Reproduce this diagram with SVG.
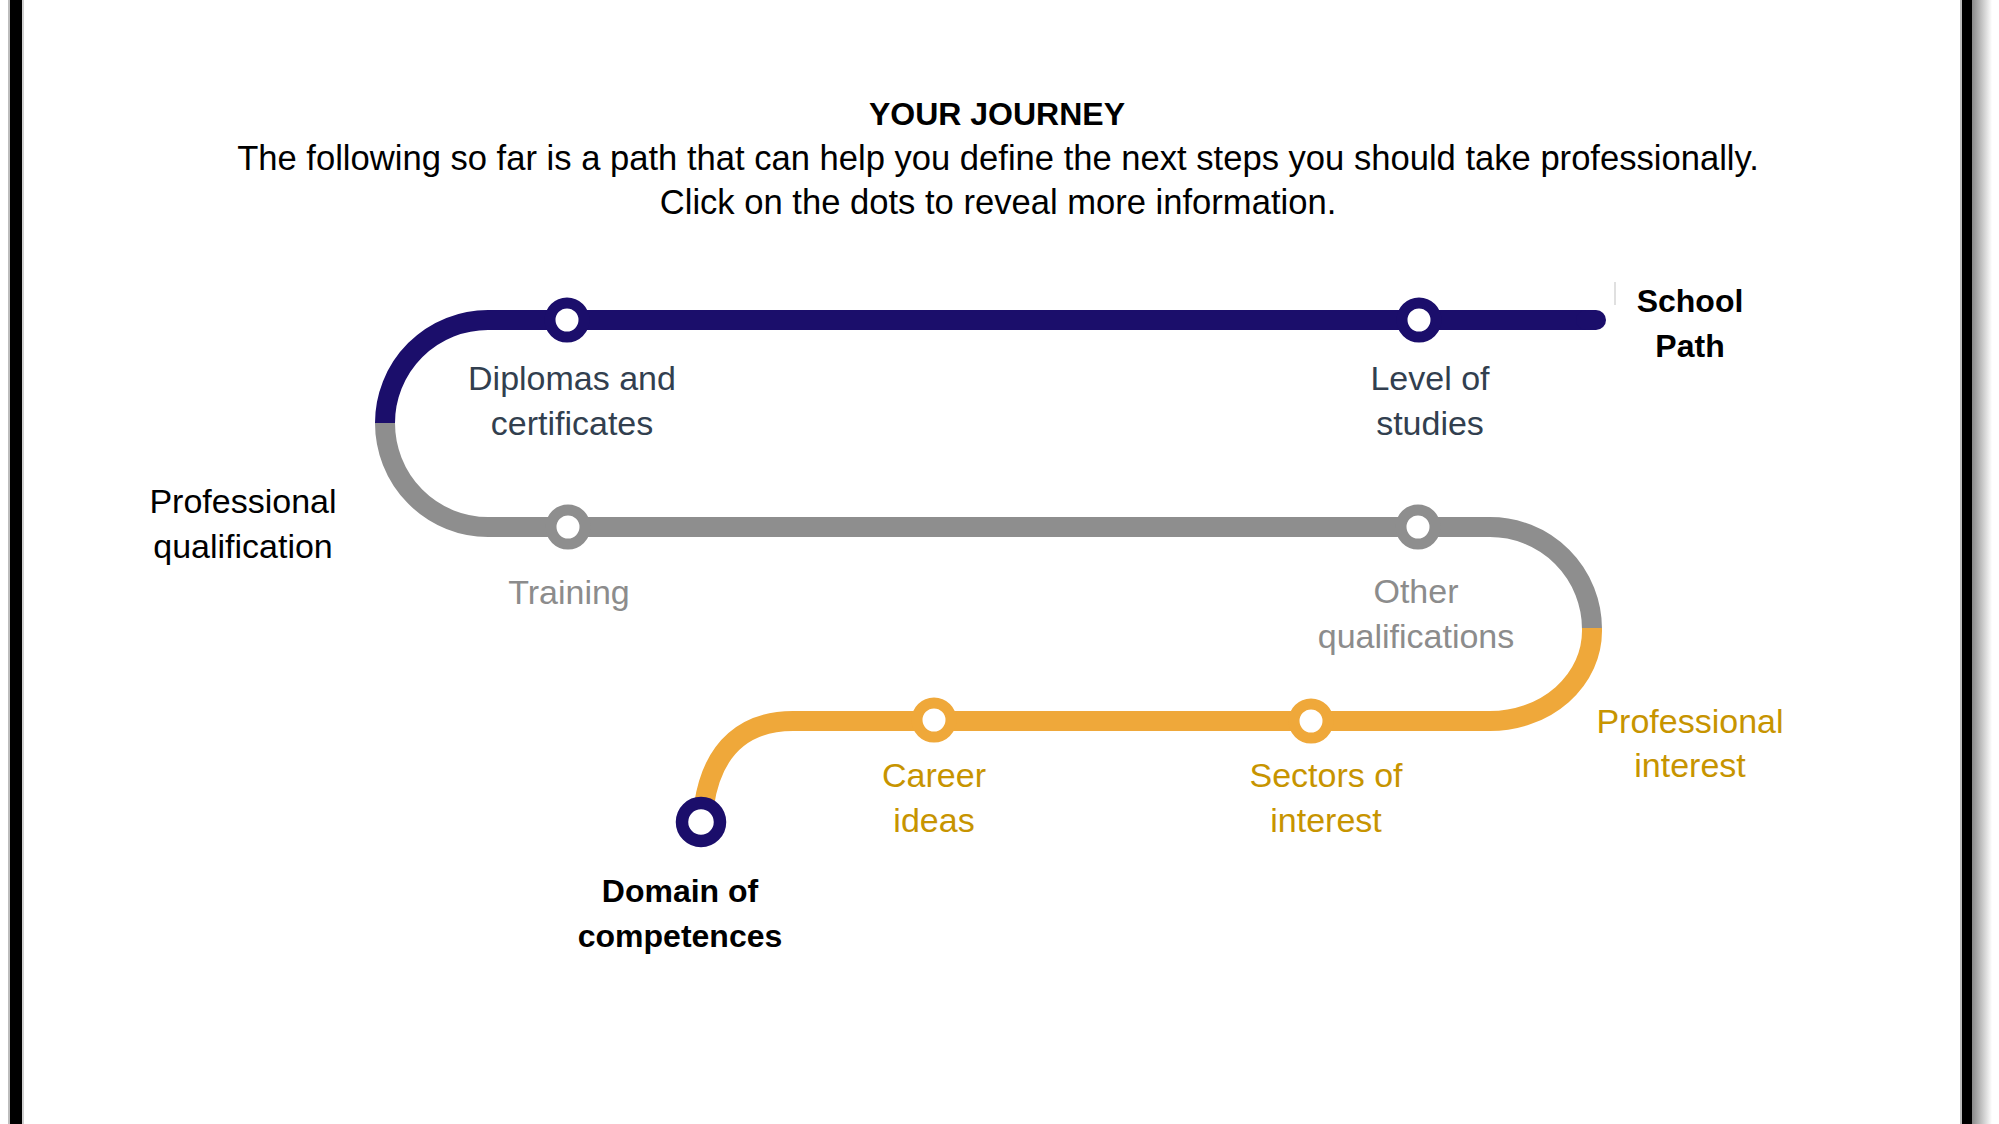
<svg xmlns="http://www.w3.org/2000/svg" width="1999" height="1124" viewBox="0 0 1999 1124">
  <defs>
    <linearGradient id="shadow" x1="0" y1="0" x2="1" y2="0">
      <stop offset="0" stop-color="#8a8a8a"/>
      <stop offset="1" stop-color="#ffffff"/>
    </linearGradient>
    <style>
      text { font-family: "Liberation Sans", Arial, sans-serif; text-anchor: middle; }
      .reg { font-size: 34px; }
      .sub { font-size: 34.6px; }
      .bold { font-size: 32px; font-weight: bold; }
      .black { fill: #000000; }
      .slate { fill: #323f4f; }
      .grey { fill: #8c8c8c; }
      .gold { fill: #c79400; }
      .track { fill: none; stroke-width: 20; }
      .blue { stroke: #1b0e6b; }
      .gray { stroke: #8e8e8e; }
      .orange { stroke: #efa83a; }
      .dot { fill: #ffffff; stroke-width: 11; }
    </style>
  </defs>

  <rect x="0" y="0" width="1999" height="1124" fill="#ffffff"/>

  <!-- frame edges -->
  <g id="frame">
    <rect x="8" y="0" width="2" height="1124" fill="#bdbdbd"/>
    <rect x="10" y="0" width="12" height="1124" fill="#000000"/>
    <rect x="22" y="0" width="2" height="1124" fill="#cfcfcf"/>
    <rect x="1960" y="0" width="2" height="1124" fill="#bdbdbd"/>
    <rect x="1962" y="0" width="10" height="1124" fill="#000000"/>
    <rect x="1972" y="0" width="20" height="1124" fill="url(#shadow)"/>
  </g>

  <!-- heading -->
  <g id="heading">
    <text class="bold black" x="997" y="125">YOUR JOURNEY</text>
    <text class="sub black" x="998" y="170">The following so far is a path that can help you define the next steps you should take professionally.</text>
    <text class="sub black" x="998" y="214">Click on the dots to reveal more information.</text>
  </g>

  <!-- connectors: the journey track -->
  <g id="connectors">
    <path class="track blue" d="M385,423 A103,103 0 0 1 488,320 H1596" stroke-linecap="butt"/>
    <path class="track blue" d="M1586,320 H1596" stroke-linecap="round"/>
    <path class="track gray" d="M385,423 A103,104 0 0 0 488,527 H1490 A102,102 0 0 1 1592,629"/>
    <path class="track orange" d="M1592,628 L1592,631 A102,90 0 0 1 1490,721 H793 C748,721 713,745 704,805"/>
    <line x1="1615" y1="282" x2="1615" y2="305" stroke="#d6d6d6" stroke-width="1.5"/>
  </g>

  <!-- nodes -->
  <g id="node-school-path">
    <text class="bold black" x="1690" y="312">School</text>
    <text class="bold black" x="1690" y="357">Path</text>
  </g>

  <g id="node-level-of-studies">
    <circle class="dot blue" cx="1419" cy="320" r="17"/>
    <text class="reg slate" x="1430" y="390">Level of</text>
    <text class="reg slate" x="1430" y="435">studies</text>
  </g>

  <g id="node-diplomas">
    <circle class="dot blue" cx="567" cy="320" r="17"/>
    <text class="reg slate" x="572" y="390">Diplomas and</text>
    <text class="reg slate" x="572" y="435">certificates</text>
  </g>

  <g id="node-professional-qualification">
    <text class="reg black" x="243" y="513">Professional</text>
    <text class="reg black" x="243" y="558">qualification</text>
  </g>

  <g id="node-training">
    <circle class="dot gray" cx="568" cy="527" r="17"/>
    <text class="reg grey" x="569" y="604">Training</text>
  </g>

  <g id="node-other-qualifications">
    <circle class="dot gray" cx="1418" cy="527" r="17"/>
    <text class="reg grey" x="1416" y="603">Other</text>
    <text class="reg grey" x="1416" y="648">qualifications</text>
  </g>

  <g id="node-professional-interest">
    <text class="reg gold" x="1690" y="733">Professional</text>
    <text class="reg gold" x="1690" y="777">interest</text>
  </g>

  <g id="node-sectors-of-interest">
    <circle class="dot orange" cx="1311" cy="721" r="17"/>
    <text class="reg gold" x="1326" y="787">Sectors of</text>
    <text class="reg gold" x="1326" y="832">interest</text>
  </g>

  <g id="node-career-ideas">
    <circle class="dot orange" cx="934" cy="720" r="17"/>
    <text class="reg gold" x="934" y="787">Career</text>
    <text class="reg gold" x="934" y="832">ideas</text>
  </g>

  <g id="node-domain-of-competences">
    <circle cx="701" cy="822" r="19" fill="#ffffff" stroke="#1b0e6b" stroke-width="12.5"/>
    <text class="bold black" x="680" y="902">Domain of</text>
    <text class="bold black" x="680" y="947">competences</text>
  </g>
</svg>
